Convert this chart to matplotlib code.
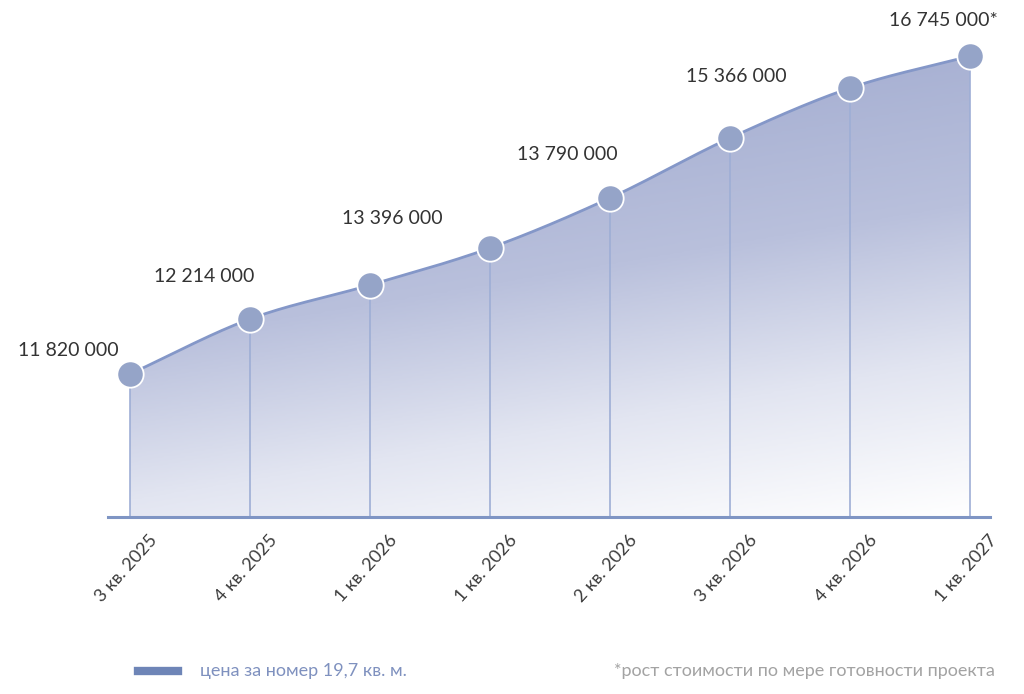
import numpy as np
import matplotlib.pyplot as plt
from matplotlib.path import Path
from matplotlib.patches import PathPatch
from matplotlib.colors import LinearSegmentedColormap

plt.rcParams['font.family'] = ['Lato', 'DejaVu Sans']

# data
quarters = ["3 кв. 2025", "4 кв. 2025", "1 кв. 2026", "1 кв. 2026",
            "2 кв. 2026", "3 кв. 2026", "4 кв. 2026", "1 кв. 2027"]
levels = [143, 198, 232, 269, 319, 379, 429, 461]   # drawn height of each point
price_labels = ["11 820 000", "12 214 000", "13 396 000", None,
                "13 790 000", "15 366 000", None, "16 745 000*"]
label_offsets = [(-62, 24), (-46, 42), (22, 66), None,
                 (-43, 43), (6, 61), None, (-27, 36)]

x = np.arange(len(levels))
y = np.array(levels, dtype=float)

# smooth the line between points (Catmull-Rom)
def smooth(xs, ys, n=30):
    px = np.concatenate([[2 * xs[0] - xs[1]], xs, [2 * xs[-1] - xs[-2]]])
    py = np.concatenate([[2 * ys[0] - ys[1]], ys, [2 * ys[-1] - ys[-2]]])
    ox, oy = [], []
    for i in range(1, len(px) - 2):
        t = np.linspace(0, 1, n, endpoint=False)
        for p, out in ((px, ox), (py, oy)):
            p0, p1, p2, p3 = p[i - 1], p[i], p[i + 1], p[i + 2]
            out.extend(0.5 * (2 * p1 + (-p0 + p2) * t
                              + (2 * p0 - 5 * p1 + 4 * p2 - p3) * t ** 2
                              + (-p0 + 3 * p1 - 3 * p2 + p3) * t ** 3))
    ox.append(xs[-1])
    oy.append(ys[-1])
    return np.array(ox), np.array(oy)

sx, sy = smooth(x, y)

fig = plt.figure(figsize=(10.24, 6.94), dpi=100)
ax = fig.add_axes([108 / 1024, 177 / 694, 882 / 1024, 517 / 694])
ax.set_xlim(-22 / 120, 7 + 20 / 120)
ax.set_ylim(0, 517)
ax.axis('off')

# gradient fill under the curve
verts = [(sx[0], 0)] + list(zip(sx, sy)) + [(sx[-1], 0), (sx[0], 0)]
clip = PathPatch(Path(verts), facecolor='none', edgecolor='none')
ax.add_patch(clip)
cmap = LinearSegmentedColormap.from_list('g', ['#ffffff', '#e2e5f1', '#b9c0dc', '#a8b1d3'])
gy, gx = np.mgrid[0:1:200j, 0:1:200j]
grad = np.clip(gy * 1.0 - gx * 0.3 + 0.3, 0, 1)
im = ax.imshow(grad, extent=[x[0], x[-1], 0, 470], origin='lower', cmap=cmap,
               vmin=0, vmax=1, aspect='auto', zorder=1)
im.set_clip_path(clip)

# vertical drop lines
for xi, yi in zip(x, y):
    ax.plot([xi, xi], [0, yi], color='#9eaed5', lw=1.2, zorder=2)

ax.plot(sx, sy, color='#8497c8', lw=2.0, zorder=3, solid_capstyle='round')
ax.scatter(x, y, s=360, color='#95a4c8', edgecolor='white', linewidth=1.3, zorder=4)

# baseline
ax.plot([-22 / 120, 7 + 20 / 120], [0, 0], color='#7f95c4', lw=2.2, zorder=5,
        clip_on=False)

for xi, yi, txt, off in zip(x, y, price_labels, label_offsets):
    if txt is None:
        continue
    ax.annotate(txt, (xi, yi), xytext=off, textcoords='offset pixels',
                ha='center', va='center', fontsize=14, color='#333333')

for xi, q in zip(x, quarters):
    ax.annotate(q, (xi, 0), xytext=(24, -20), textcoords='offset pixels',
                rotation=48, rotation_mode='anchor', ha='right', va='center',
                fontsize=13, color='#3c3c3c', annotation_clip=False)

# legend and footnote
fig.add_artist(plt.Line2D([138 / 1024, 178 / 1024], [23 / 694, 23 / 694],
                          color='#6e85b7', lw=6))
fig.text(200 / 1024, 23 / 694, "цена за номер 19,7 кв. м.", ha='left', va='center',
         fontsize=13, color='#7f91bf')
fig.text(995 / 1024, 23 / 694, "*рост стоимости по мере готовности проекта",
         ha='right', va='center', fontsize=13, color='#a3a3a3')

fig.savefig('out.png', dpi=100)
